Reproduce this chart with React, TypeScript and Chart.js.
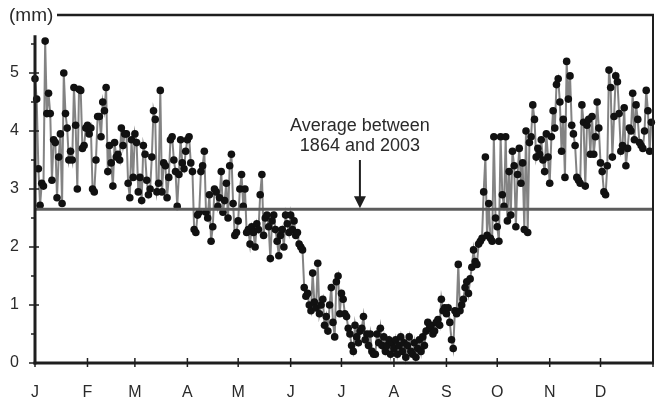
import { useEffect, useRef } from 'react';
import { Chart, registerables } from 'chart.js';

Chart.register(...registerables);

const monthLabels = ['J', 'F', 'M', 'A', 'M', 'J', 'J', 'A', 'S', 'O', 'N', 'D'];
const monthStarts = [0, 31, 59, 90, 120, 151, 181, 212, 243, 273, 304, 334, 365];
const yTickValues = [0, 1, 2, 3, 4, 5];
const averageValue = 2.65;
const annotationLines = ['Average between', '1864 and 2003'];
const unitLabel = '(mm)';

const jan = [4.9, 4.55, 3.35, 2.72, 3.1, 3.05, 5.55, 4.3, 4.65, 4.3, 3.15, 3.85, 3.8, 2.85, 3.55, 3.95, 2.75, 5.0, 4.3, 4.05, 3.5, 3.65, 3.5, 4.75, 4.1, 3.0, 4.72, 4.7, 3.7, 3.75, 4.05];
const feb = [4.1, 3.95, 4.05, 3.0, 2.95, 3.5, 4.25, 4.25, 3.9, 4.5, 4.35, 4.75, 3.3, 3.75, 3.45, 3.05, 3.8, 3.55, 3.6, 3.5, 4.05, 3.75, 3.95, 3.95, 3.1, 2.85, 3.85, 3.2];
const mar = [3.95, 3.8, 2.95, 3.2, 2.8, 3.75, 3.6, 3.15, 2.9, 3.0, 3.55, 4.35, 4.2, 2.95, 3.1, 4.7, 2.95, 3.45, 3.4, 2.85, 3.2, 3.85, 3.9, 3.5, 3.3, 2.7, 3.25, 3.85, 3.45, 3.35, 3.65];
const apr = [3.85, 3.9, 3.45, 3.3, 2.3, 2.25, 2.55, 2.6, 3.3, 3.4, 3.65, 2.6, 2.5, 2.9, 2.1, 2.35, 3.0, 2.95, 2.7, 2.85, 3.3, 2.6, 2.8, 3.1, 2.5, 3.4, 3.6, 2.75, 2.2, 2.25];
const may = [2.45, 3.0, 3.25, 2.7, 3.0, 2.25, 2.3, 2.05, 2.35, 2.25, 2.0, 2.4, 2.3, 2.9, 3.25, 2.2, 2.5, 2.55, 2.35, 1.8, 2.45, 2.55, 2.3, 2.1, 1.85, 2.2, 2.3, 2.0, 2.55, 2.4, 2.25];
const jun = [2.55, 2.3, 2.45, 2.2, 2.25, 2.05, 2.0, 1.95, 1.3, 1.15, 1.2, 1.0, 0.9, 1.55, 1.05, 0.95, 1.72, 0.85, 1.0, 1.1, 0.65, 0.8, 0.55, 1.0, 1.3, 0.7, 0.45, 1.4, 1.5, 0.85];
const jul = [1.2, 1.1, 0.85, 0.8, 0.6, 0.5, 0.3, 0.2, 0.65, 0.45, 0.35, 0.55, 0.6, 0.8, 0.4, 0.5, 0.3, 0.5, 0.2, 0.15, 0.15, 0.5, 0.35, 0.6, 0.3, 0.45, 0.2, 0.3, 0.4, 0.15, 0.35];
const aug = [0.25, 0.4, 0.15, 0.3, 0.45, 0.2, 0.35, 0.1, 0.3, 0.45, 0.2, 0.15, 0.35, 0.1, 0.25, 0.4, 0.2, 0.45, 0.3, 0.55, 0.7, 0.6, 0.65, 0.5, 0.55, 0.7, 0.75, 0.65, 1.1, 0.9, 0.95];
const sep = [0.85, 0.95, 0.7, 0.4, 0.25, 0.9, 0.85, 1.7, 0.9, 1.0, 1.1, 1.3, 1.4, 1.2, 1.45, 1.65, 1.95, 1.75, 1.7, 2.05, 2.1, 2.15, 2.95, 3.55, 2.2, 2.75, 2.15, 2.1, 3.9, 2.5];
const oct = [2.35, 2.1, 3.9, 2.9, 2.7, 3.9, 2.45, 3.3, 2.55, 3.65, 3.4, 2.35, 3.25, 3.7, 3.1, 3.45, 2.3, 4.0, 2.25, 3.8, 3.9, 4.45, 4.2, 3.55, 3.7, 3.6, 3.85, 3.5, 3.3, 3.95, 3.55];
const nov = [3.1, 3.9, 4.35, 4.05, 4.8, 4.9, 4.5, 3.65, 4.2, 3.2, 5.2, 4.55, 4.95, 4.1, 3.95, 3.75, 3.2, 3.15, 3.1, 4.45, 4.15, 3.05, 4.1, 4.2, 3.6, 4.25, 3.6, 3.9, 4.5, 4.05];
const dec = [3.45, 3.3, 2.95, 2.9, 3.4, 5.05, 4.75, 3.55, 4.25, 4.95, 4.85, 4.3, 3.65, 3.75, 4.4, 3.4, 3.7, 4.05, 4.0, 4.65, 3.85, 4.45, 4.2, 3.8, 3.75, 3.7, 4.0, 4.7, 4.35, 3.65, 4.15];

const dailyValues = [...jan, ...feb, ...mar, ...apr, ...may, ...jun, ...jul, ...aug, ...sep, ...oct, ...nov, ...dec];

const FONT = '"Liberation Sans", Arial, Helvetica, sans-serif';
const TEXT = '#2a2a2a';

const framePlugin = {
  id: 'framePlugin',
  afterDraw(chart: any) {
    const { ctx, chartArea: ca, scales } = chart;
    const x = scales.x;
    const y = scales.y;
    const y0 = y.getPixelForValue(0);
    ctx.save();
    ctx.strokeStyle = '#1e1e1e';
    ctx.lineCap = 'butt';
    // left axis
    ctx.lineWidth = 3;
    ctx.beginPath();
    ctx.moveTo(ca.left, y0 + 1.5);
    ctx.lineTo(ca.left, y.getPixelForValue(5.65));
    ctx.stroke();
    // bottom axis
    ctx.beginPath();
    ctx.moveTo(ca.left - 1.5, y0);
    ctx.lineTo(ca.right + 1, y0);
    ctx.stroke();
    // right frame
    ctx.lineWidth = 2;
    ctx.beginPath();
    ctx.moveTo(ca.right, ca.top - 1);
    ctx.lineTo(ca.right, y0);
    ctx.stroke();
    // top frame
    ctx.lineWidth = 2.5;
    ctx.beginPath();
    ctx.moveTo(57, ca.top);
    ctx.lineTo(ca.right + 1, ca.top);
    ctx.stroke();
    // y ticks
    ctx.lineWidth = 1.5;
    for (let v = 0; v <= 5.5; v += 0.5) {
      const py = y.getPixelForValue(v);
      const major = Math.abs(v - Math.round(v)) < 1e-6;
      ctx.beginPath();
      ctx.moveTo(ca.left - (major ? 6 : 4), py);
      ctx.lineTo(ca.left + (major ? 4 : 0), py);
      ctx.stroke();
    }
    // x ticks
    monthStarts.forEach((d) => {
      const px = x.getPixelForValue(d);
      ctx.beginPath();
      ctx.moveTo(px, y0 - 5);
      ctx.lineTo(px, y0 + 4);
      ctx.stroke();
    });
    // unit label
    ctx.fillStyle = TEXT;
    ctx.font = `19px ${FONT}`;
    ctx.textAlign = 'left';
    ctx.textBaseline = 'middle';
    ctx.fillText(unitLabel, 9, ca.top + 1);
    // annotation
    const ax = x.getPixelForValue(191.9);
    ctx.font = `18px ${FONT}`;
    ctx.textAlign = 'center';
    ctx.textBaseline = 'alphabetic';
    ctx.fillText(annotationLines[0], ax, y.getPixelForValue(4.0));
    ctx.fillText(annotationLines[1], ax, y.getPixelForValue(3.655));
    const arrowTop = y.getPixelForValue(3.5);
    const tip = y.getPixelForValue(averageValue) - 1;
    const headBase = tip - 12;
    ctx.lineWidth = 2;
    ctx.beginPath();
    ctx.moveTo(ax, arrowTop);
    ctx.lineTo(ax, headBase + 1);
    ctx.stroke();
    ctx.fillStyle = '#1e1e1e';
    ctx.beginPath();
    ctx.moveTo(ax - 6, headBase);
    ctx.lineTo(ax + 6, headBase);
    ctx.lineTo(ax, tip);
    ctx.closePath();
    ctx.fill();
    ctx.restore();
  },
};

export default function App() {
  const canvasRef = useRef<HTMLCanvasElement | null>(null);

  useEffect(() => {
    const canvas = canvasRef.current;
    if (!canvas) return;
    const chart = new Chart(canvas, {
      type: 'line',
      data: {
        datasets: [
          {
            label: 'Average',
            data: [
              { x: 0, y: averageValue },
              { x: 365, y: averageValue },
            ],
            borderColor: '#5c5c5c',
            borderWidth: 3,
            pointRadius: 0,
            order: 0,
          },
          {
            label: 'Daily',
            data: dailyValues.map((v, i) => ({ x: i, y: v })),
            borderColor: 'rgba(100,100,100,0.8)',
            borderWidth: 2,
            pointRadius: 3.8,
            pointBackgroundColor: '#111',
            pointBorderColor: '#111',
            pointBorderWidth: 0,
            tension: 0,
            clip: false,
            order: 1,
          },
        ],
      },
      options: {
        animation: false,
        responsive: false,
        devicePixelRatio: 1,
        layout: { padding: { top: 15, right: 6, left: 0, bottom: 0 } },
        plugins: {
          legend: { display: false },
          tooltip: { enabled: false },
        },
        scales: {
          x: {
            type: 'linear',
            min: 0,
            max: 365,
            afterBuildTicks: (scale: any) => {
              scale.ticks = monthStarts.slice(0, 12).map((v) => ({ value: v }));
            },
            afterFit: (scale: any) => {
              scale.height = 42;
              scale.paddingRight = 0;
              scale.paddingLeft = 0;
            },
            ticks: {
              autoSkip: false,
              maxRotation: 0,
              padding: 20,
              color: TEXT,
              font: { family: FONT, size: 16 },
              callback: (_v: any, i: number) => monthLabels[i] ?? '',
            },
            grid: { display: false, drawTicks: false },
            border: { display: false },
          },
          y: {
            type: 'linear',
            min: 0,
            max: 6,
            afterBuildTicks: (scale: any) => {
              scale.ticks = yTickValues.map((v) => ({ value: v }));
            },
            afterFit: (scale: any) => {
              scale.width = 35;
              scale.paddingTop = 0;
              scale.paddingBottom = 0;
            },
            ticks: {
              padding: 16,
              color: TEXT,
              font: { family: FONT, size: 16 },
              callback: (v: any) => String(v),
            },
            grid: { display: false, drawTicks: false },
            border: { display: false },
          },
        },
      },
      plugins: [framePlugin],
    });
    return () => chart.destroy();
  }, []);

  return (
    <div style={{ position: 'fixed', left: 0, top: 0, width: 659, height: 405, background: '#fff' }}>
      <canvas ref={canvasRef} width={659} height={405} style={{ display: 'block' }} />
    </div>
  );
}
